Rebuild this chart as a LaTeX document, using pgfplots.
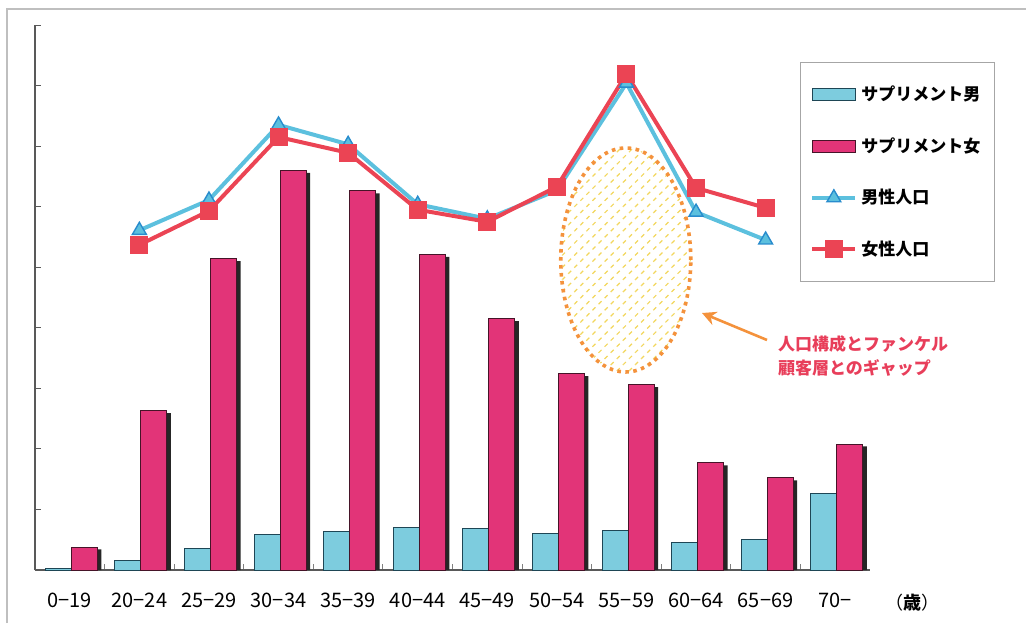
\documentclass[border=0pt]{standalone}
\usepackage{fontspec}
\setmainfont{Noto Sans CJK JP}
\usepackage{pgfplots}
\usepackage{pgfplotstable}
\pgfplotsset{compat=1.18}
\usetikzlibrary{patterns.meta,arrows.meta}

\definecolor{cyanbar}{RGB}{125,204,222}
\definecolor{cyanedge}{RGB}{30,70,85}
\definecolor{pinkbar}{RGB}{226,52,120}
\definecolor{pinkedge}{RGB}{70,20,40}
\definecolor{maleline}{RGB}{92,192,222}
\definecolor{maleedge}{RGB}{40,140,205}
\definecolor{femline}{RGB}{235,68,84}
\definecolor{ellorange}{RGB}{244,146,60}
\definecolor{hatch}{RGB}{242,214,92}
\definecolor{annot}{RGB}{232,62,90}

\pgfplotsset{
  linelegend/.style={legend image code/.code={\draw[##1, mark repeat=2, mark phase=2] plot coordinates {(0pt,0pt) (10.75pt,0pt) (21.5pt,0pt)};}},
  barlegend/.style={legend image code/.code={\draw[##1] (0pt,-3pt) rectangle (21.5pt,3pt);}},
}

\pgfplotstableread{
x m f
0 0.02 0.38
1 0.15 2.63
2 0.36 5.14
3 0.58 6.60
4 0.64 6.26
5 0.71 5.21
6 0.69 4.15
7 0.61 3.24
8 0.66 3.06
9 0.45 1.77
10 0.50 1.52
11 1.26 2.08
}\bars

\pgfplotstableread{
x pm pf
1 5.61 5.37
2 6.11 5.93
3 7.35 7.15
4 7.03 6.89
5 6.04 5.95
6 5.80 5.75
7 6.27 6.33
8 8.04 8.19
9 5.91 6.31
10 5.45 5.98
}\pop

\begin{document}
\begin{tikzpicture}
\begin{scope}[x=0.5pt,y=0.5pt]
\draw[gray!50, line width=0.6pt] (7,0) -- (7,614) -- (1026,614);
\end{scope}
\begin{axis}[
  at={(17.5pt,26.5pt)}, anchor=south west, scale only axis,
  width=417.5pt, height=272.5pt,
  xmin=-0.5, xmax=11.5, ymin=0, ymax=9,
  axis x line*=bottom, axis y line*=left,
  axis line style={black!65, line width=0.6pt},
  tick align=inside, major tick length=3pt,
  tick style={black!65, line width=0.5pt},
  ytick={0,...,9}, yticklabels={},
  xtick={0.5,1.5,...,10.5}, xticklabels={},
  x tick style={gray},
  extra x ticks={0,...,11},
  extra x tick labels={0−19,20−24,25−29,30−34,35−39,40−44,45−49,50−54,55−59,60−64,65−69,70−},
  extra x tick style={major tick length=0pt},
  xticklabel style={font=\fontsize{10}{12}\selectfont, yshift=-8pt},
  clip=false,
  legend style={at={(0.916,0.932)}, anchor=north west, draw=gray!70, line width=0.5pt,
    fill=white, font=\bfseries\fontsize{8.5}{10}\selectfont, row sep=13pt,
    inner xsep=5pt, inner ysep=9.5pt, cells={anchor=west}},
  legend cell align=left,
]
\addplot[ybar, bar width=13pt, bar shift=-5.7pt, fill=cyanbar, draw=cyanedge, line width=0.5pt, barlegend]
  table[x=x,y=m]{\bars};
\addplot[ybar, bar width=13pt, bar shift=9.3pt, fill=black!85, draw=none, forget plot]
  table[x=x,y expr=\thisrow{f}-0.04]{\bars};
\addplot[ybar, bar width=13pt, bar shift=7.3pt, fill=pinkbar, draw=pinkedge, line width=0.5pt, barlegend]
  table[x=x,y=f]{\bars};
\draw[ellorange, line width=1.8pt, dash pattern=on 1.8pt off 2.2pt,
  pattern={Lines[angle=45,distance=4.3pt,line width=0.6pt]}, pattern color=hatch]
  (axis cs:7.99,5.12) ellipse [x radius=32.5pt, y radius=56pt];
\addplot[maleline, line width=2pt, mark=triangle*, mark size=4pt,
  mark options={fill=maleline, draw=maleedge, line width=0.7pt}, linelegend]
  table[x=x,y=pm]{\pop};
\addplot[femline, line width=2pt, mark=square*, mark size=3.5pt,
  mark options={fill=femline, draw=femline}, linelegend]
  table[x=x,y=pf]{\pop};
\legend{サプリメント男, サプリメント女, 男性人口, 女性人口}
\end{axis}
\begin{scope}[x=0.5pt,y=0.5pt]
\draw[ellorange, line width=1.3pt, -{Stealth[length=7pt,width=7pt]}] (767,283) -- (702,310);
\node[anchor=west, align=left, text=annot, font=\bfseries\fontsize{8.5}{12}\selectfont] at (771,267) {人口構成とファンケル\\顧客層とのギャップ};
\node[font=\fontsize{9}{10}\selectfont] at (912,20) {（\textbf{歳}）};
\pgfresetboundingbox
\path[use as bounding box] (0,0) rectangle (1026,623);
\end{scope}
\end{tikzpicture}
\end{document}
